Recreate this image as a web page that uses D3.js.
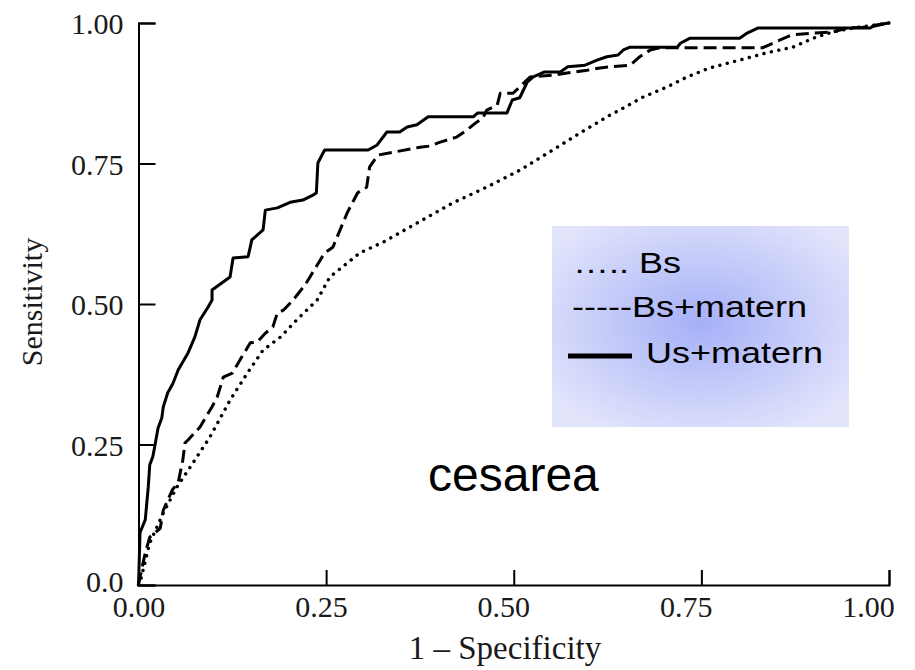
<!DOCTYPE html>
<html>
<head>
<meta charset="utf-8">
<script src="https://cdn.jsdelivr.net/npm/d3@7"></script>
<style>
  body { margin: 0; background: #fff; }
</style>
</head>
<body>
<script>
// ROC points: [1 - specificity, sensitivity]
const bs = [
    [0, 0], [0.002, 0.004], [0.015, 0.075], [0.033, 0.128], [0.051, 0.174], [0.069, 0.210],
    [0.095, 0.263], [0.122, 0.329], [0.145, 0.377], [0.166, 0.418], [0.189, 0.441], [0.211, 0.472],
    [0.238, 0.507], [0.255, 0.548], [0.295, 0.591], [0.326, 0.610], [0.371, 0.644], [0.419, 0.680],
    [0.464, 0.708], [0.508, 0.738], [0.552, 0.774], [0.588, 0.804], [0.628, 0.836], [0.641, 0.845],
    [0.672, 0.868], [0.704, 0.886], [0.731, 0.904], [0.761, 0.920], [0.801, 0.934], [0.837, 0.947],
    [0.872, 0.957], [0.899, 0.973], [0.925, 0.984], [0.952, 0.991], [1, 1]
];

const bsMatern = [
    [0, 0], [0.002, 0.014], [0.009, 0.057], [0.015, 0.085], [0.022, 0.093], [0.029, 0.101],
    [0.033, 0.133], [0.045, 0.169], [0.053, 0.183], [0.059, 0.222], [0.062, 0.253], [0.066, 0.258],
    [0.082, 0.281], [0.093, 0.306], [0.098, 0.317], [0.105, 0.335], [0.113, 0.370], [0.125, 0.377],
    [0.135, 0.400], [0.149, 0.431], [0.158, 0.432], [0.169, 0.448], [0.179, 0.459], [0.185, 0.484],
    [0.193, 0.489], [0.206, 0.507], [0.222, 0.534], [0.248, 0.591], [0.259, 0.601], [0.278, 0.662],
    [0.292, 0.698], [0.304, 0.708], [0.308, 0.744], [0.319, 0.765], [0.339, 0.770], [0.375, 0.779],
    [0.388, 0.781], [0.402, 0.788], [0.424, 0.797], [0.438, 0.810], [0.451, 0.824], [0.459, 0.831],
    [0.464, 0.845], [0.478, 0.854], [0.482, 0.875], [0.499, 0.875], [0.522, 0.904], [0.552, 0.907],
    [0.571, 0.911], [0.598, 0.916], [0.615, 0.920], [0.628, 0.922], [0.655, 0.925], [0.668, 0.940],
    [0.682, 0.952], [0.695, 0.956], [0.832, 0.956], [0.845, 0.964], [0.855, 0.970], [0.871, 0.979],
    [0.899, 0.982], [0.925, 0.984], [0.944, 0.991], [0.975, 0.993], [1, 1]
];

const usMatern = [
    [0, 0], [0.001, 0.044], [0.002, 0.093], [0.009, 0.116], [0.013, 0.174], [0.015, 0.214],
    [0.019, 0.228], [0.022, 0.249], [0.026, 0.279], [0.031, 0.297], [0.033, 0.317], [0.039, 0.342],
    [0.046, 0.359], [0.053, 0.383], [0.066, 0.413], [0.075, 0.441], [0.082, 0.472], [0.093, 0.495],
    [0.098, 0.507], [0.098, 0.525], [0.122, 0.548], [0.126, 0.582], [0.146, 0.584], [0.151, 0.614],
    [0.166, 0.632], [0.169, 0.667], [0.185, 0.671], [0.202, 0.681], [0.219, 0.685], [0.233, 0.694],
    [0.237, 0.698], [0.239, 0.751], [0.248, 0.774], [0.306, 0.774], [0.318, 0.783], [0.331, 0.806],
    [0.348, 0.806], [0.358, 0.815], [0.371, 0.819], [0.386, 0.833], [0.446, 0.833], [0.452, 0.840],
    [0.491, 0.840], [0.498, 0.863], [0.508, 0.867], [0.518, 0.895], [0.526, 0.904], [0.541, 0.913],
    [0.562, 0.913], [0.572, 0.922], [0.595, 0.925], [0.611, 0.934], [0.624, 0.940], [0.639, 0.943],
    [0.646, 0.952], [0.655, 0.957], [0.718, 0.957], [0.722, 0.964], [0.735, 0.973], [0.801, 0.973],
    [0.811, 0.982], [0.825, 0.991], [0.975, 0.991], [0.981, 0.996], [1, 1]
];

const xTicks = [0, 0.25, 0.5, 0.75, 1];
const yTicks = [0, 0.25, 0.5, 0.75, 1];
const legendLabels = ['\u2026.. Bs', '-----Bs+matern', 'Us+matern'];

const serif = '"Liberation Serif", "DejaVu Serif", serif';
const sans = '"Liberation Sans", Arial, sans-serif';

const svg = d3.select('body')
    .append('svg')
    .attr('width', 915)
    .attr('height', 670);

const x = d3.scaleLinear().domain([0, 1]).range([138.5, 889]);
const y = d3.scaleLinear().domain([0, 1]).range([585, 23]);
// the x tick labels in the figure sit on a slightly narrower spacing than the ticks
const xLabel = d3.scaleLinear().domain([0, 1]).range([138.5, 868]);

// Axes, ticks pointing inwards
const xAxis = svg.append('g')
    .attr('transform', 'translate(0,585)')
    .call(d3.axisBottom(x)
        .tickValues(xTicks)
        .tickSize(-15)
        .tickFormat(''));

const xLabels = svg.append('g')
    .attr('transform', 'translate(0,585)')
    .call(d3.axisBottom(xLabel)
        .tickValues(xTicks)
        .tickSize(0)
        .tickPadding(12)
        .tickFormat(d3.format('.2f')));
xLabels.select('.domain').remove();
xLabels.attr('font-size', 30);
xLabels.selectAll('text').attr('dy', '0.66em');

const yAxis = svg.append('g')
    .attr('transform', 'translate(138.5,0)')
    .call(d3.axisLeft(y)
        .tickValues(yTicks)
        .tickSize(-17)
        .tickPadding(15)
        .tickFormat(d => d === 0 ? '0.0' : d3.format('.2f')(d)));
yAxis.attr('font-size', 30);
yAxis.selectAll('text').attr('dy', d => d === 0 ? '0.22em' : '0.35em');

[xAxis, xLabels, yAxis].forEach(g => {
    g.attr('font-family', serif);
    g.selectAll('path, line').attr('stroke', '#000').attr('stroke-width', 2);
    g.selectAll('text').attr('fill', '#1a1a1a');
});

svg.append('text')
    .attr('x', 505)
    .attr('y', 659)
    .attr('text-anchor', 'middle')
    .attr('font-family', serif)
    .attr('font-size', 33)
    .attr('fill', '#1a1a1a')
    .text('1 \u2013 Specificity');

svg.append('text')
    .attr('transform', 'translate(42,302) rotate(-90)')
    .attr('text-anchor', 'middle')
    .attr('font-family', serif)
    .attr('font-size', 30)
    .attr('fill', '#1a1a1a')
    .text('Sensitivity');

// Curves
const line = d3.line()
    .x(d => x(d[0]))
    .y(d => y(d[1]));

const series = [
    { data: bs, dash: '0.1 7.5', cap: 'round', width: 3.4 },
    { data: bsMatern, dash: '13 6', cap: 'butt', width: 3 },
    { data: usMatern, dash: null, cap: 'butt', width: 3 }
];

svg.selectAll('path.curve')
    .data(series).enter()
    .append('path')
        .attr('class', 'curve')
        .attr('d', d => line(d.data))
        .attr('fill', 'none')
        .attr('stroke', '#000')
        .attr('stroke-width', d => d.width)
        .attr('stroke-linecap', d => d.cap)
        .attr('stroke-linejoin', 'round')
        .attr('stroke-dasharray', d => d.dash);

// Legend box with radial gradient
const grad = svg.append('defs')
    .append('radialGradient')
    .attr('id', 'legendFill')
    .attr('cx', '50%')
    .attr('cy', '48%')
    .attr('r', '62%');
grad.append('stop').attr('offset', '0%').attr('stop-color', '#a6b0f7');
grad.append('stop').attr('offset', '100%').attr('stop-color', '#e2e4fb');

svg.append('rect')
    .attr('x', 552)
    .attr('y', 226)
    .attr('width', 297)
    .attr('height', 201)
    .attr('fill', 'url(#legendFill)');

const legendPos = [[573, 273], [572, 317], [646, 363]];

svg.selectAll('text.legend')
    .data(legendLabels).enter()
    .append('text')
        .attr('class', 'legend')
        .attr('transform', (d, i) => `translate(${legendPos[i][0]},${legendPos[i][1]}) scale(1.2,1)`)
        .attr('font-family', sans)
        .attr('font-size', 30)
        .attr('fill', '#000')
        .text(d => d);

svg.append('line')
    .attr('x1', 568)
    .attr('x2', 632)
    .attr('y1', 356)
    .attr('y2', 356)
    .attr('stroke', '#000')
    .attr('stroke-width', 5);

svg.append('text')
    .attr('x', 428)
    .attr('y', 491)
    .attr('font-family', sans)
    .attr('font-size', 48)
    .attr('fill', '#000')
    .text('cesarea');
</script>
</body>
</html>
